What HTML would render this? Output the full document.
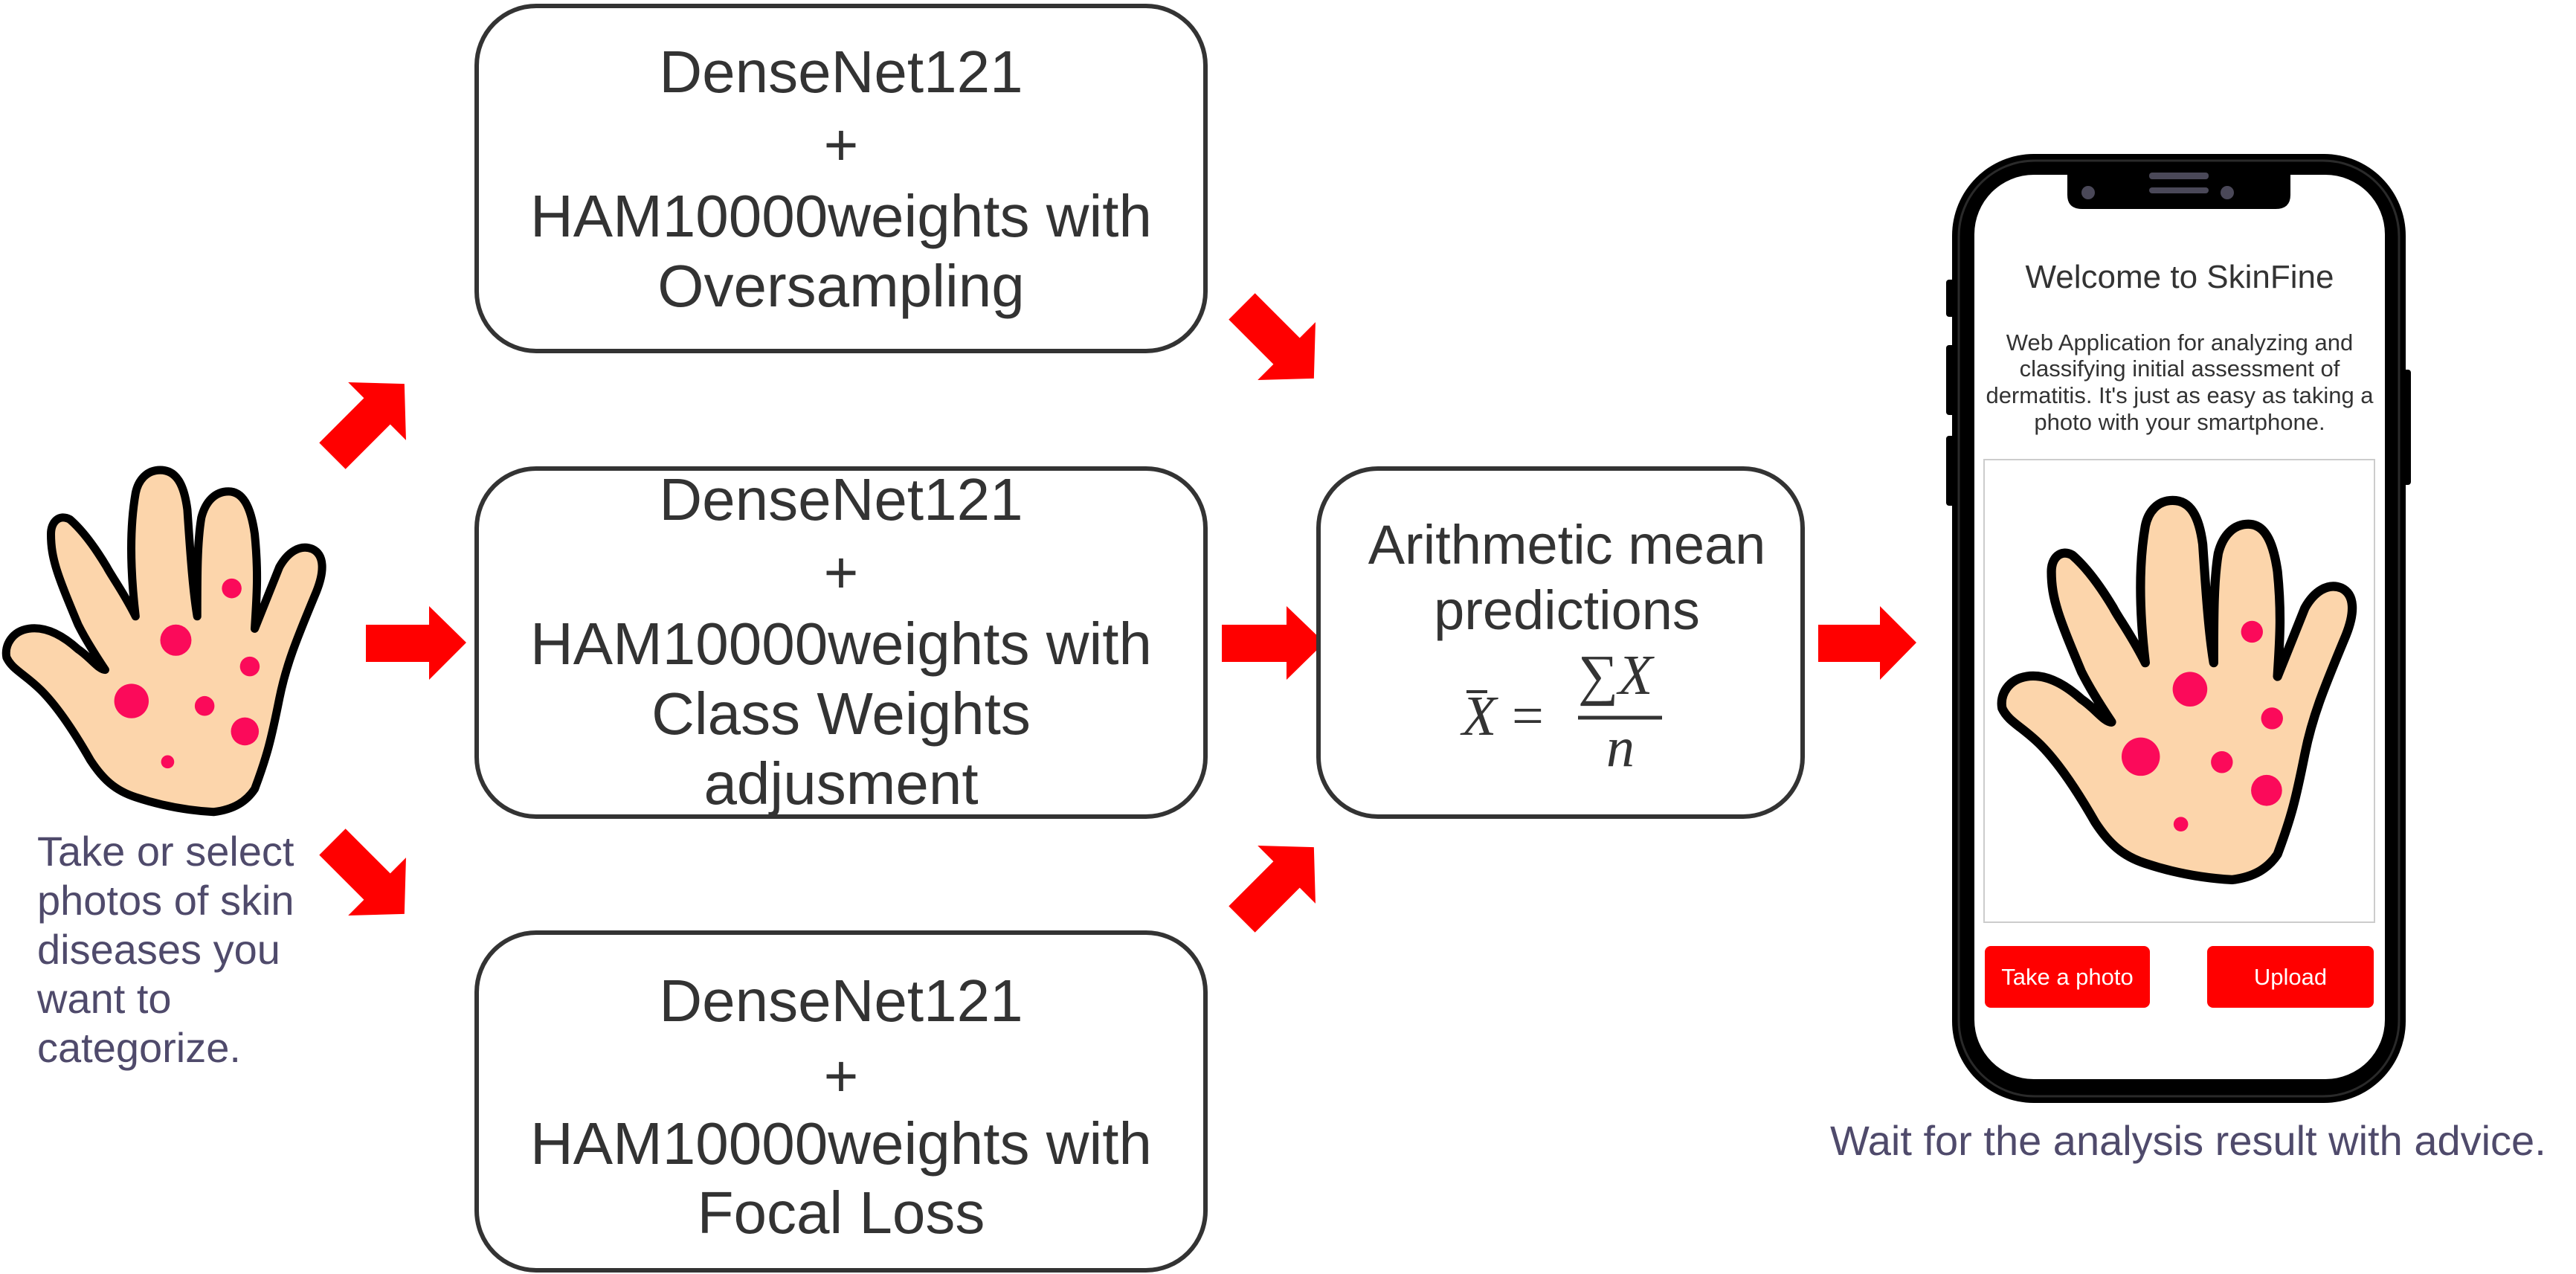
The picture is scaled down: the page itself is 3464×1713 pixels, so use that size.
<!DOCTYPE html>
<html><head><meta charset="utf-8"><style>
html,body{margin:0;padding:0;background:#fff;}
svg{display:block;}
.bt{font-family:"Liberation Sans",sans-serif;font-size:80px;fill:#333;text-anchor:middle;}
.cap{font-family:"Liberation Sans",sans-serif;font-size:56px;fill:#4f4a6b;}
</style></head><body>
<svg width="3464" height="1713" viewBox="0 0 3464 1713" xmlns="http://www.w3.org/2000/svg">
<defs>
<g id="hand">
<path d="M260,988 C285,985 300,975 310,960 C325,920 330,900 340,850 C348,810 360,780 385,720 C395,695 395,675 380,668 C365,662 350,672 340,690 L310,765 C312,730 315,700 310,650 C305,615 295,598 278,598 C262,598 250,610 245,630 C240,660 240,700 240,750 C235,720 232,680 228,620 C224,590 215,572 195,572 C178,572 168,585 165,600 C158,640 158,690 165,750 C150,720 135,700 130,690 C115,665 100,645 85,632 C72,625 62,635 62,650 C62,680 70,700 95,760 C105,780 118,800 128,815 C120,815 110,800 95,790 C75,772 55,762 35,765 C15,768 5,785 8,800 C15,815 30,820 50,840 C70,860 90,890 110,925 C125,948 140,962 165,970 C195,980 225,986 260,988 Z" fill="#fcd5ab" stroke="#000" stroke-width="10" stroke-linejoin="round"/>
<g fill="#fb0a5a">
<circle cx="282" cy="716" r="12"/><circle cx="214" cy="779" r="19"/><circle cx="304" cy="811" r="12"/>
<circle cx="160" cy="853" r="21"/><circle cx="249" cy="859" r="12"/><circle cx="298" cy="890" r="17"/><circle cx="204" cy="927" r="8"/>
</g>
</g>
<polygon id="darr" points="-75,-25 10,-25 10,-55 62,0 10,55 10,25 -75,25" fill="#f00"/>
</defs>

<g transform="scale(1.105)"><use href="#hand"/></g>
<text class="cap" x="50" y="1164">Take or select</text>
<text class="cap" x="50" y="1230">photos of skin</text>
<text class="cap" x="50" y="1296">diseases you</text>
<text class="cap" x="50" y="1362">want to</text>
<text class="cap" x="50" y="1428">categorize.</text>

<use href="#darr" transform="translate(500,560) rotate(-45)"/>
<polygon points="492,840 577,840 577,815 627,864 577,914 577,890 492,890" fill="#f00"/>
<use href="#darr" transform="translate(500,1185) rotate(45)"/>

<rect x="641" y="8" width="980" height="464" rx="80" fill="#fff" stroke="#333" stroke-width="6"/>
<text class="bt" x="1131" y="124">DenseNet121</text>
<text class="bt" x="1131" y="222">+</text>
<text class="bt" x="1131" y="318">HAM10000weights with</text>
<text class="bt" x="1131" y="412">Oversampling</text>

<rect x="641" y="630" width="980" height="468" rx="80" fill="#fff" stroke="#333" stroke-width="6"/>
<text class="bt" x="1131" y="699">DenseNet121</text>
<text class="bt" x="1131" y="797">+</text>
<text class="bt" x="1131" y="893">HAM10000weights with</text>
<text class="bt" x="1131" y="987">Class Weights</text>
<text class="bt" x="1131" y="1081">adjusment</text>

<rect x="641" y="1254" width="980" height="454" rx="80" fill="#fff" stroke="#333" stroke-width="6"/>
<text class="bt" x="1131" y="1373">DenseNet121</text>
<text class="bt" x="1131" y="1474">+</text>
<text class="bt" x="1131" y="1565">HAM10000weights with</text>
<text class="bt" x="1131" y="1658">Focal Loss</text>

<use href="#darr" transform="translate(1723,465) rotate(45)"/>
<polygon points="1643,840 1730,840 1730,815 1781,864 1730,914 1730,890 1643,890" fill="#f00"/>
<use href="#darr" transform="translate(1723,1183) rotate(-45)"/>

<rect x="1773" y="630" width="651" height="468" rx="80" fill="#fff" stroke="#333" stroke-width="6"/>
<text class="bt" x="2107" y="758" style="font-size:74px">Arithmetic mean</text>
<text class="bt" x="2107" y="846" style="font-size:74px">predictions</text>
<g font-family="'Liberation Serif',serif" font-size="76" fill="#333">
<text x="1966" y="988" font-style="italic">X</text>
<line x1="1972" y1="930" x2="2000" y2="930" stroke="#333" stroke-width="4"/>
<text x="2033" y="988">=</text>
<text x="2122" y="933">∑</text>
<text x="2176" y="933" font-style="italic">X</text>
<line x1="2122" y1="965" x2="2235" y2="965" stroke="#333" stroke-width="5"/>
<text x="2160" y="1030" font-style="italic">n</text>
</g>

<polygon points="2445,840 2528,840 2528,815 2577,864 2528,914 2528,890 2445,890" fill="#f00"/>

<rect x="2617" y="376" width="12" height="50" rx="4" fill="#000"/>
<rect x="2617" y="464" width="12" height="94" rx="4" fill="#000"/>
<rect x="2617" y="586" width="12" height="94" rx="4" fill="#000"/>
<rect x="3230" y="497" width="12" height="155" rx="4" fill="#000"/>
<rect x="2625" y="207" width="610" height="1276" rx="110" fill="#000"/>
<rect x="2634" y="216" width="592" height="1258" rx="102" fill="none" stroke="#2a2a2a" stroke-width="3"/>
<rect x="2655" y="235" width="552" height="1216" rx="80" fill="#fff"/>
<path d="M2780,235 L3080,235 L3080,262 Q3080,281 3060,281 L2800,281 Q2780,281 2780,262 Z" fill="#000"/>
<rect x="2890" y="232" width="80" height="9" rx="4" fill="#4a4858"/>
<rect x="2890" y="252" width="80" height="8" rx="4" fill="#4a4858"/>
<circle cx="2808" cy="259" r="9" fill="#4a4858"/>
<circle cx="2995" cy="259" r="9" fill="#4a4858"/>

<text x="2931" y="387" font-family="'Liberation Sans',sans-serif" font-size="44" fill="#333" text-anchor="middle">Welcome to SkinFine</text>
<g font-family="'Liberation Sans',sans-serif" font-size="31" fill="#333" text-anchor="middle">
<text x="2931" y="471">Web Application for analyzing and</text>
<text x="2931" y="506">classifying initial assessment of</text>
<text x="2931" y="542">dermatitis. It's just as easy as taking a</text>
<text x="2931" y="578">photo with your smartphone.</text>
</g>
<rect x="2668" y="618" width="525" height="622" fill="#fff" stroke="#ccc" stroke-width="2"/>
<g transform="translate(2685,668) scale(1.226) translate(-2,-568)"><use href="#hand"/></g>
<rect x="2669" y="1272" width="222" height="83" rx="8" fill="#f00"/>
<rect x="2968" y="1272" width="224" height="83" rx="8" fill="#f00"/>
<g font-family="'Liberation Sans',sans-serif" font-size="31" fill="#fff" text-anchor="middle">
<text x="2780" y="1324">Take a photo</text>
<text x="3080" y="1324">Upload</text>
</g>
<text class="cap" x="2461" y="1553">Wait for the analysis result with advice.</text>
</svg>
</body></html>
